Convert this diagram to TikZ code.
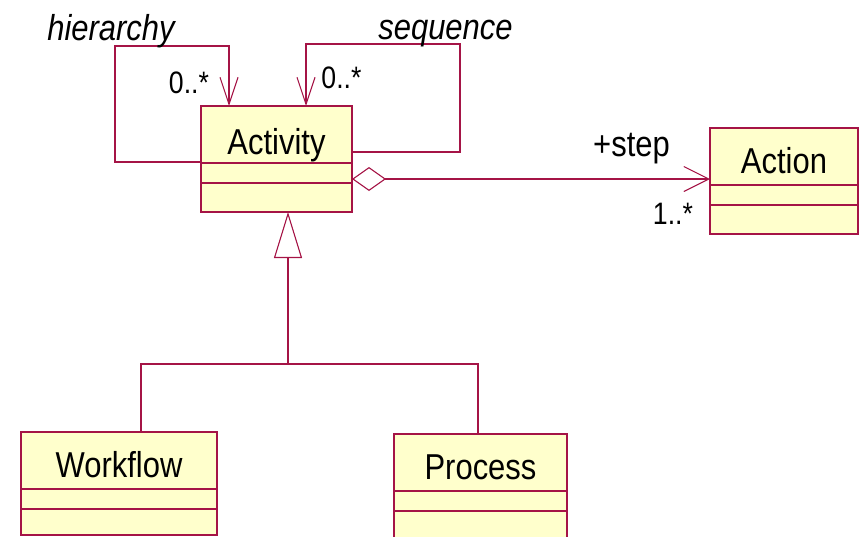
\documentclass[tikz,border=0pt]{standalone}
\usepackage{fontspec}
\setmainfont[FakeStretch=0.86]{Liberation Sans}
\usetikzlibrary{arrows.meta,calc}
\definecolor{umlline}{RGB}{165,20,70}
\definecolor{umlfill}{RGB}{255,255,204}

\begin{document}
\begin{tikzpicture}[x=1pt,y=-1pt,
  classbox/.style={draw=umlline, fill=umlfill, line width=1.5pt, rectangle,
    inner sep=0pt, outer sep=0pt, anchor=north west},
  divider/.style={draw=umlline, line width=1.5pt},
  conn/.style={draw=umlline, line width=1.1pt},
  cname/.style={font=\fontsize{36}{40}\selectfont, anchor=base, inner sep=0pt},
  rolename/.style={font=\fontsize{36}{40}\selectfont\itshape, anchor=base, inner sep=0pt},
  mult/.style={font=\fontsize{31}{34}\selectfont, anchor=base, inner sep=0pt},
  openbarb/.style={-{Straight Barb[length=27pt,width=18pt]}},
]
\useasboundingbox (0,0) rectangle (860,536);
\clip (0,0) rectangle (860,536);

% class boxes
\node[classbox, minimum width=151pt, minimum height=106pt] (activity) at (201,106) {};
\node[classbox, minimum width=148pt, minimum height=106pt] (action)   at (710,128) {};
\node[classbox, minimum width=196pt, minimum height=103pt] (workflow) at (21,432) {};
\node[classbox, minimum width=173pt, minimum height=106pt] (process)  at (394,434) {};

% compartment dividers
\draw[divider] ($(activity.north west)+(0,57)$) -- ($(activity.north east)+(0,57)$);
\draw[divider] ($(activity.north west)+(0,77)$) -- ($(activity.north east)+(0,77)$);
\draw[divider] ($(action.north west)+(0,57)$)   -- ($(action.north east)+(0,57)$);
\draw[divider] ($(action.north west)+(0,77)$)   -- ($(action.north east)+(0,77)$);
\draw[divider] ($(workflow.north west)+(0,57)$) -- ($(workflow.north east)+(0,57)$);
\draw[divider] ($(workflow.north west)+(0,77)$) -- ($(workflow.north east)+(0,77)$);
\draw[divider] ($(process.north west)+(0,57)$)  -- ($(process.north east)+(0,57)$);
\draw[divider] ($(process.north west)+(0,77)$)  -- ($(process.north east)+(0,77)$);

% class names
\node[cname] (activityname) at ($(activity.north)+(0,48)$) {Activity};
\node[cname] (actionname)   at ($(action.north)+(0,45.5)$) {Action};
\node[cname] (workflowname) at ($(workflow.north)+(0,45.5)$) {Workflow};
\node[cname] (processname)  at ($(process.north)+(0,45.5)$) {Process};

% self-associations
\coordinate (hierloop) at (115,46);
\coordinate (seqloop)  at (460,44);
\draw[conn, openbarb] ($(activity.north west)+(0,56)$) -| (hierloop)
  -| ($(activity.north west)+(28,0)$);
\draw[conn, openbarb] ($(activity.north east)+(0,46)$) -| (seqloop)
  -| ($(activity.north west)+(105,0)$);

\node[rolename] (hierlabel) at (111,40) {hierarchy};
\node[rolename] (seqlabel)  at (445.5,39) {sequence};
\node[mult] (hiermult) at (189,93) {0..*};
\node[mult] (seqmult)  at (341.5,88) {0..*};

% aggregation Activity -> Action
\draw[conn, {Diamond[open,length=34pt,width=24pt]}-{Straight Barb[length=25pt,width=25pt]}]
  ($(activity.north east)+(0,73)$) -- ($(action.north west)+(0,51)$);
\node[cname] (steplabel) at (631.5,156.5) {+step};
\node[mult] (stepmult) at (673,224) {1..*};

% generalization Workflow, Process -> Activity
\coordinate (genjoin) at (288,364);
\draw[conn] ($(workflow.north west)+(120,0)$) |- (genjoin)
  -| ($(process.north west)+(84,0)$);
\draw[conn, -{Triangle[open,length=46pt,width=28pt]}] (genjoin)
  -- ($(activity.south west)+(87,0)$);
\end{tikzpicture}
\end{document}
